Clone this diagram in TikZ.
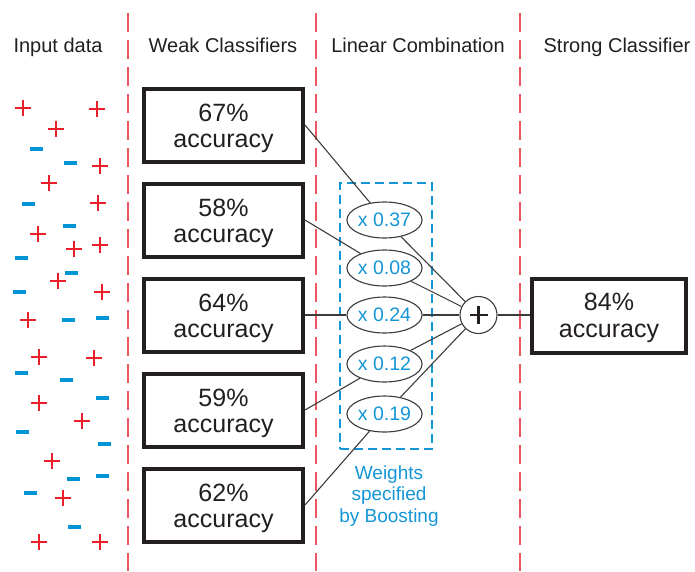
\documentclass[tikz,border=0pt]{standalone}
\usepackage{fontspec}
\setmainfont{Liberation Sans}
\usetikzlibrary{shapes.geometric}

\definecolor{inkdark}{RGB}{35,31,32}
\definecolor{linkgray}{RGB}{60,60,60}
\definecolor{wblue}{RGB}{20,150,214}
\definecolor{plusred}{RGB}{232,32,44}
\definecolor{minusblue}{RGB}{0,150,214}
\definecolor{sepred}{RGB}{236,88,98}

% two-line "NN% / accuracy" label, last baseline placed #1 above the node centre
\newcommand\acctext[2][-22.5pt]{%
  \raisebox{#1}[0pt][0pt]{\begin{tabular}[b]{@{}c@{}}#2\%\\accuracy\end{tabular}}}

\begin{document}
\begin{tikzpicture}[x=1pt,y=-1pt,
  header/.style={anchor=base, inner sep=0pt, text=inkdark,
    font=\fontsize{20}{24}\selectfont},
  weak/.style={draw=inkdark, line width=4pt, fill=white, inner sep=0pt,
    minimum width=159pt, minimum height=73pt, text=inkdark,
    font=\fontsize{25}{26.5}\selectfont},
  strong/.style={weak, minimum width=154pt, minimum height=74pt},
  weight/.style={ellipse, draw=linkgray, line width=1.1pt, fill=white,
    inner sep=0pt, minimum width=71pt, minimum height=36pt, text=wblue,
    font=\fontsize{19.5}{21}\selectfont},
  sumnode/.style={circle, draw=linkgray, line width=1.1pt, fill=white,
    inner sep=0pt, minimum size=37pt},
  sumsign/.style={draw=inkdark, line width=2.8pt},
  link/.style={draw=linkgray, line width=1.1pt},
  sepline/.style={draw=sepred, line width=1.6pt, dash pattern=on 19pt off 8pt},
  weightframe/.style={draw=wblue, line width=1.2pt, dash pattern=on 9pt off 5pt,
    inner sep=0pt, minimum width=92pt, minimum height=266pt},
  note/.style={align=center, text=wblue, inner sep=0pt,
    font=\fontsize{19}{21.5}\selectfont},
  posmark/.style={draw=plusred, line width=2.8pt},
  negmark/.style={fill=minusblue}
]
\useasboundingbox (0,0) rectangle (695,571);

% column separators
\draw[sepline] (128,13) -- (128,571);
\draw[sepline] (316,13) -- (316,571);
\draw[sepline] (520,13) -- (520,571);

% column headings
\node[header] (h1) at (58,52) {Input data};
\node[header] (h2) at (223,52) {Weak Classifiers};
\node[header] (h3) at (418,52) {Linear Combination};
\node[header] (h4) at (617,52) {Strong Classifier};

% input samples: positives
\foreach \x/\y in {23/108, 97/109, 56/129, 100/166, 49/183, 98/203, 38/234,
                   74/249, 100/245, 58/281, 102/292, 28/320, 39/357, 94/358,
                   39/403, 82/421, 52/461, 63/498, 39/542, 100/542}
  \draw[posmark] (\x-8,\y) -- ++(16,0) (\x,\y-8) -- ++(0,16);

% input samples: negatives
\foreach \x/\y in {36/149, 70/163, 28/204, 69/226, 21/258, 71/273, 19/292,
                   68/320, 102/318, 21/373, 66/380, 102/398, 22/432, 104/444,
                   73/479, 102/476, 30/493, 74/527}
  \fill[negmark] (\x-6.5,\y-2.2) rectangle ++(13,4.4);

% frame around the boosting weights
\node[weightframe] (wf) at (386,316) {};
\node[note] (wn) at (389,496) {Weights\\specified\\by Boosting};

% weak classifiers
\node[weak] (w1) at (223.5,125) {\acctext{67}};
\node[weak] (w2) at (223.5,220) {\acctext{58}};
\node[weak] (w3) at (223.5,315) {\acctext{64}};
\node[weak] (w4) at (223.5,410) {\acctext{59}};
\node[weak] (w5) at (223.5,505) {\acctext{62}};

% weights
\node[weight] (e1) at (384.5,220) {x 0.37};
\node[weight] (e2) at (384.5,268) {x 0.08};
\node[weight] (e3) at (384.5,315) {x 0.24};
\node[weight] (e4) at (384.5,364) {x 0.12};
\node[weight] (e5) at (384.5,414) {x 0.19};

% summation
\node[sumnode] (sum) at (478.5,315) {};
\draw[sumsign] (sum.center) ++(-9,0) -- ++(18,0)
               (sum.center) ++(0,-9) -- ++(0,18);

% strong classifier
\node[strong] (s) at (609,316) {\acctext[-21pt]{84}};

% connections
\foreach \i in {1,...,5} {
  \draw[link] (w\i.east) -- (e\i);
  \draw[link] (e\i) -- (sum);
}
\draw[link] (sum) -- (s.west |- sum);
\end{tikzpicture}
\end{document}
